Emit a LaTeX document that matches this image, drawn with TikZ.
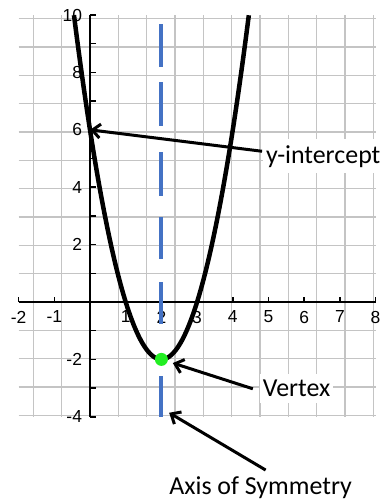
\documentclass[tikz,border=0pt]{standalone}
\usepackage{fontspec}
\setmainfont{Carlito}
\newfontfamily\ticksfont{Liberation Sans}
\usetikzlibrary{arrows.meta}

\definecolor{gridgray}{HTML}{C4C4C4}
\definecolor{symblue}{HTML}{4472C4}
\definecolor{vtxgreen}{HTML}{22EE22}

\begin{document}
\begin{tikzpicture}[x=35.7bp, y=28.7bp, line width=2bp, line join=round,
    ticklbl/.style={font=\ticksfont\fontsize{17.5}{17.5}\selectfont, inner sep=0pt},
    callout/.style={font=\fontsize{26}{26}\selectfont, fill=white, inner xsep=3bp, inner ysep=6bp},
    pointer/.style={line width=3bp, -{Straight Barb[length=8bp, width=14bp]}}]

            \useasboundingbox (-2.521,-6.934) rectangle (8.431,10.523);
            \fill[white] (-2.521,-6.934) rectangle (8.431,10.523);

            % ==========================================
            % 1. Griglia e assi
            % ==========================================
            \draw[gridgray, line width=1.3bp] (-2,-4) grid (8,10);
            \draw (-2,0) -- (8,0);
            \draw (0,-4) -- (0,10);
            \foreach \t in {-2,...,8} \draw[line width=1.5bp] (\t,0) -- ++(0,5bp);
            \foreach \t in {-4,...,10} \draw[line width=1.5bp] (0,\t) -- ++(6bp,0);
            \foreach \t in {-2,-1,1,2,...,8}
                \node[ticklbl, anchor=north] (xlbl\t) at ([yshift=-8bp]\t,0) {\t};
            \foreach \t in {-4,-2,2,4,6,8,10}
                \node[ticklbl, anchor=east] (ylbl\t) at ([xshift=-7bp]0,\t) {\t};

            % ==========================================
            % 2. Parabola e asse di simmetria
            % ==========================================
            \draw[line width=4.5bp] plot[domain=-0.449:4.449, samples=80, smooth] (\x, {2*(\x-2)^2-2});
            \draw[symblue, line width=4bp, dash pattern=on 41bp off 52bp on 42bp off 23bp on 42bp off 21bp on 44bp off 26bp on 44bp off 15bp on 43bp off 10bp]
                (2,-4) -- (2,10);

            \coordinate (vtx) at (2,-2);
            \coordinate (yint) at (0,6);
            \coordinate (symfoot) at (2,-3.7);
            \fill[vtxgreen] (vtx) circle (6.5bp);

            % ==========================================
            % 3. Etichette e frecce
            % ==========================================
            \node[callout, anchor=base west] (yintlbl) at (4.82,4.84) {y-intercept};
            \node[callout, anchor=base west] (vtxlbl) at (4.73,-3.31) {Vertex};
            \node[callout, anchor=base] (symlbl) at (4.78,-6.72) {Axis of Symmetry};

            \draw[pointer] ([yshift=5bp]yintlbl.west) -- (yint);
            \draw[pointer, shorten >=12bp] ([xshift=-6bp]vtxlbl.west) -- (vtx);
            \draw[pointer, shorten >=9bp] ([xshift=5bp]symlbl.north) -- (symfoot);

        \end{tikzpicture}
\end{document}
